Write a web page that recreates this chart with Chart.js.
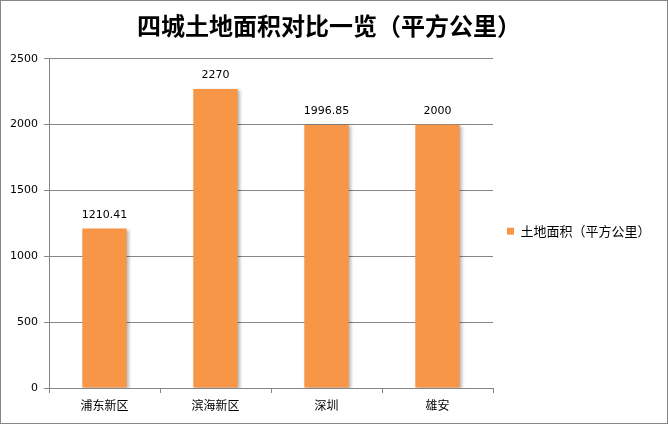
<!DOCTYPE html>
<html>
<head>
<meta charset="utf-8">
<script src="https://cdn.jsdelivr.net/npm/chart.js@4"></script>
<style>
  html, body { margin: 0; padding: 0; background: #fff; }
  #wrap { width: 668px; height: 424px; box-sizing: border-box; border: 1px solid #868686; position: relative; }
  canvas { display: block; }
</style>
</head>
<body>
<div id="wrap"><canvas id="c" width="666" height="422"></canvas></div>
<script>
// ========================
// DATA
// ========================
const CITIES = ["浦东新区", "滨海新区", "深圳", "雄安"];
const AREAS = [1210.41, 2270, 1996.85, 2000];
const AREA_LABELS = ["1210.41", "2270", "1996.85", "2000"];
const SERIES_NAME = "土地面积（平方公里）";
const CHART_TITLE = "四城土地面积对比一览（平方公里）";

const CJK = "'Noto Sans CJK SC', 'Noto Sans', sans-serif";
const NUM = "'DejaVu Sans', sans-serif";

// value labels on top of the bars
const valueLabels = {
  id: "valueLabels",
  afterDatasetsDraw(chart) {
    const ctx = chart.ctx;
    const meta = chart.getDatasetMeta(0);
    ctx.save();
    ctx.font = "11px " + NUM;
    ctx.fillStyle = "#000";
    ctx.textAlign = "center";
    ctx.textBaseline = "bottom";
    meta.data.forEach((bar, i) => {
      ctx.fillText(AREA_LABELS[i], bar.x, bar.y - 8);
    });
    ctx.restore();
  }
};

// soft shadow on the right of each bar
const barShadow = {
  id: "barShadow",
  beforeDatasetsDraw(chart) {
    const ctx = chart.ctx;
    ctx.save();
    ctx.shadowColor = "rgba(0,0,0,0.28)";
    ctx.shadowBlur = 3;
    ctx.shadowOffsetX = 2;
    ctx.shadowOffsetY = 1;
  },
  afterDatasetsDraw(chart) {
    chart.ctx.restore();
  }
};

new Chart(document.getElementById("c"), {
  type: "bar",
  data: {
    labels: CITIES,
    datasets: [{
      label: SERIES_NAME,
      data: AREAS,
      backgroundColor: "#F79646",
      borderWidth: 0,
      categoryPercentage: 1,
      barPercentage: 0.4
    }]
  },
  options: {
    responsive: false,
    animation: false,
    layout: { padding: { left: 0, right: 10, top: 0, bottom: 0 } },
    plugins: {
      title: {
        display: true,
        text: CHART_TITLE,
        color: "#000",
        font: { family: CJK, size: 24, weight: "bold" },
        padding: { top: 10, bottom: 19 }
      },
      legend: {
        position: "right",
        // empty title just pushes the single item a bit lower
        title: { display: true, text: "", font: { size: 12 }, padding: 12 },
        labels: {
          boxWidth: 7,
          boxHeight: 7,
          color: "#000",
          font: { family: CJK, size: 13 },
          padding: 14
        }
      },
      tooltip: { enabled: false }
    },
    scales: {
      x: {
        grid: { drawOnChartArea: false, drawTicks: true, tickLength: 5, color: "#868686" },
        border: { color: "#868686" },
        ticks: { color: "#000", font: { family: CJK, size: 12 }, padding: 5 },
        afterFit(scale) { scale.height = 35; }
      },
      y: {
        min: 0,
        max: 2500,
        ticks: {
          stepSize: 500,
          color: "#000",
          font: { family: NUM, size: 11 },
          padding: 6,
          callback: (v) => String(v)
        },
        grid: { color: "#868686", tickLength: 5 },
        border: { color: "#868686" },
        afterFit(scale) { scale.width = 48; }
      }
    }
  },
  plugins: [barShadow, valueLabels]
});
</script>
</body>
</html>
